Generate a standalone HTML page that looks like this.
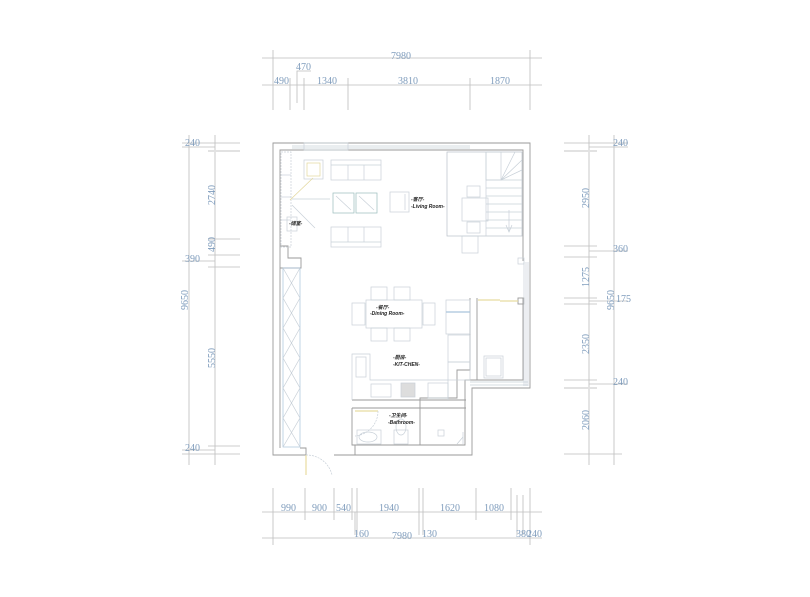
<!DOCTYPE html>
<html><head><meta charset="utf-8"><style>
html,body{margin:0;padding:0;background:#fff}
svg{display:block}
.d{font-family:"Liberation Serif","Noto Serif CJK SC",serif;font-size:10px;fill:#7f9cbc}
.l{font-family:"Liberation Sans","Noto Sans CJK SC",sans-serif;font-size:5px;font-weight:bold;font-style:italic;fill:#222}
</style></head><body>
<svg width="810" height="597" viewBox="0 0 810 597" xmlns="http://www.w3.org/2000/svg">
<g stroke="#bdbdbd" stroke-width="0.8" fill="none">
<line x1="262" y1="58" x2="542" y2="58"/><line x1="262" y1="85" x2="542" y2="85"/>
<line x1="273" y1="50" x2="273" y2="110"/><line x1="530" y1="50" x2="530" y2="110"/>
<line x1="290" y1="78" x2="290" y2="110"/><line x1="304" y1="78" x2="304" y2="110"/><line x1="348" y1="78" x2="348" y2="110"/><line x1="470" y1="78" x2="470" y2="110"/>
<polyline points="297,103 297,71 311,71"/>
<line x1="262" y1="512" x2="542" y2="512"/><line x1="262" y1="538" x2="542" y2="538"/>
<line x1="273" y1="488" x2="273" y2="545"/><line x1="530" y1="488" x2="530" y2="545"/>
<line x1="305" y1="488" x2="305" y2="520"/><line x1="334" y1="488" x2="334" y2="520"/><line x1="352" y1="488" x2="352" y2="520"/>
<line x1="357" y1="488" x2="357" y2="535"/><line x1="355" y1="512" x2="355" y2="535"/>
<line x1="419" y1="488" x2="419" y2="535"/><line x1="423" y1="488" x2="423" y2="535"/>
<line x1="476" y1="488" x2="476" y2="520"/><line x1="511" y1="488" x2="511" y2="520"/><line x1="517" y1="495" x2="517" y2="535"/><line x1="523" y1="495" x2="523" y2="535"/>
<line x1="189" y1="135" x2="189" y2="465"/><line x1="215" y1="135" x2="215" y2="465"/>
<line x1="182" y1="143" x2="240" y2="143"/><line x1="182" y1="147" x2="215" y2="147"/><line x1="208" y1="151" x2="240" y2="151" stroke="#e2e2e2" stroke-width="2"/>
<line x1="208" y1="239" x2="240" y2="239"/><line x1="208" y1="255" x2="240" y2="255"/><line x1="182" y1="261" x2="215" y2="261"/><line x1="208" y1="267" x2="240" y2="267"/>
<line x1="208" y1="446" x2="240" y2="446"/><line x1="182" y1="450" x2="215" y2="450"/><line x1="182" y1="454" x2="240" y2="454"/>
<line x1="589" y1="135" x2="589" y2="465"/><line x1="614" y1="135" x2="614" y2="465"/>
<line x1="564" y1="143" x2="628" y2="143"/><line x1="589" y1="147" x2="628" y2="147"/><line x1="564" y1="151" x2="597" y2="151" stroke="#e2e2e2" stroke-width="2"/>
<line x1="564" y1="246" x2="597" y2="246"/><line x1="589" y1="251" x2="628" y2="251"/><line x1="564" y1="257" x2="597" y2="257"/>
<line x1="564" y1="298" x2="597" y2="298"/><line x1="589" y1="301" x2="628" y2="301"/><line x1="564" y1="304" x2="597" y2="304"/>
<line x1="564" y1="380" x2="597" y2="380"/><line x1="589" y1="384" x2="628" y2="384"/><line x1="564" y1="388" x2="597" y2="388" stroke="#e2e2e2" stroke-width="2"/>
<line x1="564" y1="454" x2="622" y2="454"/>
</g>
<g class="d">
<text x="391" y="59">7980</text><text x="296" y="70">470</text>
<text x="274" y="84">490</text><text x="317" y="84">1340</text><text x="398" y="84">3810</text><text x="490" y="84">1870</text>
<text x="281" y="511">990</text><text x="312" y="511">900</text><text x="336" y="511">540</text><text x="379" y="511">1940</text><text x="440" y="511">1620</text><text x="484" y="511">1080</text>
<text x="354" y="537">160</text><text x="392" y="539">7980</text><text x="422" y="537">130</text><text x="516" y="537">380</text><text x="527" y="537">240</text>
<text x="185" y="146">240</text><text x="185" y="262">390</text><text x="185" y="451">240</text>
<text x="613" y="146">240</text><text x="613" y="252">360</text><text x="616" y="302">175</text><text x="613" y="385">240</text>
</g>
<g class="d">
<text transform="translate(215,205) rotate(-90)">2740</text>
<text transform="translate(215,252) rotate(-90)">490</text>
<text transform="translate(188,310) rotate(-90)">9650</text>
<text transform="translate(215,368) rotate(-90)">5550</text>
<text transform="translate(589,208) rotate(-90)">2950</text>
<text transform="translate(589,287) rotate(-90)">1275</text>
<text transform="translate(614,310) rotate(-90)">9650</text>
<text transform="translate(589,354) rotate(-90)">2350</text>
<text transform="translate(589,430) rotate(-90)">2060</text>
</g>
<g stroke="#9a9a9a" stroke-width="0.9" fill="none">
<polyline points="306,455 273,455 273,143 530,143 530,388 472,388 472,455 334,455"/>
<polyline points="280,448 280,150 523,150 523,261"/>
<polyline points="523,298 523,380 465,380 465,445 355,445 355,455"/>
<polyline points="306,455 306,448 300,448"/>
<polyline points="477,298 477,380 465,380"/>
<polyline points="470,298 470,370 457,370 457,398 420,398 420,445"/>
<line x1="352" y1="400" x2="466" y2="400"/><line x1="352" y1="408" x2="466" y2="408"/>
<polyline points="352,408 352,445 355,445"/>
<polyline points="280,246 288,246 288,258 301,258 301,268 280,268"/>
<rect x="518" y="298" width="6" height="6"/>
</g>
<g stroke="#c8d0d8" stroke-width="0.7" fill="none">
<line x1="292" y1="146" x2="470" y2="146"/><line x1="292" y1="148" x2="470" y2="148"/>
<rect x="304" y="143" width="44" height="7"/>
<line x1="524" y1="262" x2="524" y2="386"/><line x1="526" y1="262" x2="526" y2="386"/><line x1="528" y1="262" x2="528" y2="386"/>
<line x1="470" y1="382" x2="528" y2="382"/><line x1="470" y1="385" x2="528" y2="385"/>
<rect x="281" y="152" width="10" height="95" stroke-dasharray="2,1"/>
<line x1="281" y1="175" x2="291" y2="175"/><line x1="281" y1="197" x2="291" y2="197"/><line x1="281" y1="220" x2="291" y2="220"/>
<rect x="283" y="268" width="17" height="179" stroke="#a9c4dc"/>
<polyline points="283,268 300,298 283,328 300,358 283,388 300,418 283,447" /><polyline points="300,268 283,298 300,328 283,358 300,388 283,418 300,447"/>
<rect x="304" y="160" width="19" height="19"/><rect x="307" y="163" width="13" height="13" stroke="#e3d79b"/>
<line x1="290" y1="200" x2="313" y2="178" stroke="#e3d79b"/>
<line x1="292" y1="199" x2="330" y2="199"/>
<line x1="292" y1="205" x2="315" y2="228"/>
<rect x="331" y="160" width="50" height="20"/><line x1="331" y1="165" x2="381" y2="165"/><line x1="348" y1="165" x2="348" y2="180"/><line x1="364" y1="165" x2="364" y2="180"/>
<rect x="331" y="227" width="50" height="20"/><line x1="331" y1="242" x2="381" y2="242"/><line x1="348" y1="227" x2="348" y2="242"/><line x1="364" y1="227" x2="364" y2="242"/>
<rect x="333" y="193" width="21" height="20" stroke="#9bb"/><rect x="356" y="193" width="21" height="20" stroke="#9bb"/>
<line x1="336" y1="196" x2="351" y2="210"/><line x1="359" y1="196" x2="374" y2="210"/>
<rect x="390" y="192" width="19" height="20"/><line x1="405" y1="194" x2="405" y2="210"/>
<rect x="287" y="217" width="10" height="14" />
<rect x="447" y="152" width="75" height="84" stroke="#b8c0c8"/>
<line x1="486" y1="152" x2="486" y2="236"/><rect x="486" y="152" width="15" height="28"/>
<line x1="486" y1="180" x2="522" y2="180"/><line x1="486" y1="188" x2="522" y2="188"/><line x1="486" y1="196" x2="522" y2="196"/><line x1="486" y1="204" x2="522" y2="204"/><line x1="486" y1="212" x2="522" y2="212"/><line x1="486" y1="220" x2="522" y2="220"/><line x1="486" y1="228" x2="522" y2="228"/>
<line x1="501" y1="180" x2="515" y2="152"/><line x1="501" y1="180" x2="522" y2="160"/><line x1="501" y1="180" x2="522" y2="170"/>
<polyline points="506,225 509,232 512,225"/><line x1="509" y1="210" x2="509" y2="232"/>
<rect x="462" y="198" width="26" height="23"/><rect x="467" y="186" width="13" height="11"/><rect x="467" y="222" width="13" height="11"/>
<rect x="462" y="236" width="16" height="17"/>
<rect x="518" y="258" width="6" height="6"/>
<rect x="366" y="300" width="56" height="28"/>
<rect x="371" y="287" width="16" height="13"/><rect x="394" y="287" width="16" height="13"/>
<rect x="371" y="328" width="16" height="13"/><rect x="394" y="328" width="16" height="13"/>
<rect x="352" y="303" width="13" height="22"/><rect x="423" y="303" width="12" height="22"/>
<rect x="446" y="300" width="24" height="34"/><line x1="446" y1="312" x2="470" y2="312" stroke="#a9c4dc" stroke-width="1.2"/>
<rect x="448" y="335" width="22" height="27"/><rect x="448" y="362" width="22" height="18"/>
<polyline points="352,400 352,354 370,354 370,380 448,380 448,400"/>
<rect x="356" y="357" width="10" height="20"/>
<rect x="371" y="384" width="20" height="13"/>
<rect x="401" y="383" width="14" height="14" fill="#ddd"/>
<rect x="428" y="383" width="20" height="15"/>
<rect x="484" y="356" width="19" height="22"/><rect x="486" y="358" width="15" height="18"/>
<line x1="478" y1="300" x2="500" y2="300" stroke="#e8dca0" stroke-width="1.2"/><line x1="500" y1="301" x2="518" y2="301" stroke="#e8dca0" stroke-width="1.2"/>
<line x1="355" y1="411" x2="378" y2="411" stroke="#e8dca0" stroke-width="1.2"/>
<path d="M378,411 A25,25 0 0 1 355,436" stroke-dasharray="2,1"/>
<rect x="357" y="430" width="24" height="14"/><ellipse cx="368" cy="437" rx="9" ry="5"/>
<rect x="394" y="430" width="14" height="14"/><ellipse cx="401" cy="427" rx="5" ry="8"/>
<rect x="438" y="430" width="6" height="6"/><line x1="463" y1="432" x2="463" y2="444"/><line x1="457" y1="444" x2="463" y2="437"/>
<line x1="306" y1="455" x2="306" y2="475" stroke="#e8dca0" stroke-width="1.2"/>
<path d="M306,455 A26,26 0 0 1 332,475" stroke-dasharray="2,1"/>
</g>
<g class="l">
<text x="411" y="201">-客厅-</text><text x="411" y="208">-Living Room-</text>
<text x="289" y="225">-储室-</text>
<text x="376" y="309">-餐厅-</text><text x="370" y="315">-Dining Room-</text>
<text x="393" y="359">-厨房-</text><text x="393" y="366">-KIT-CHEN-</text>
<text x="389" y="417">-卫生间-</text><text x="388" y="424">-Bathroom-</text>
</g>
</svg>
</body></html>
